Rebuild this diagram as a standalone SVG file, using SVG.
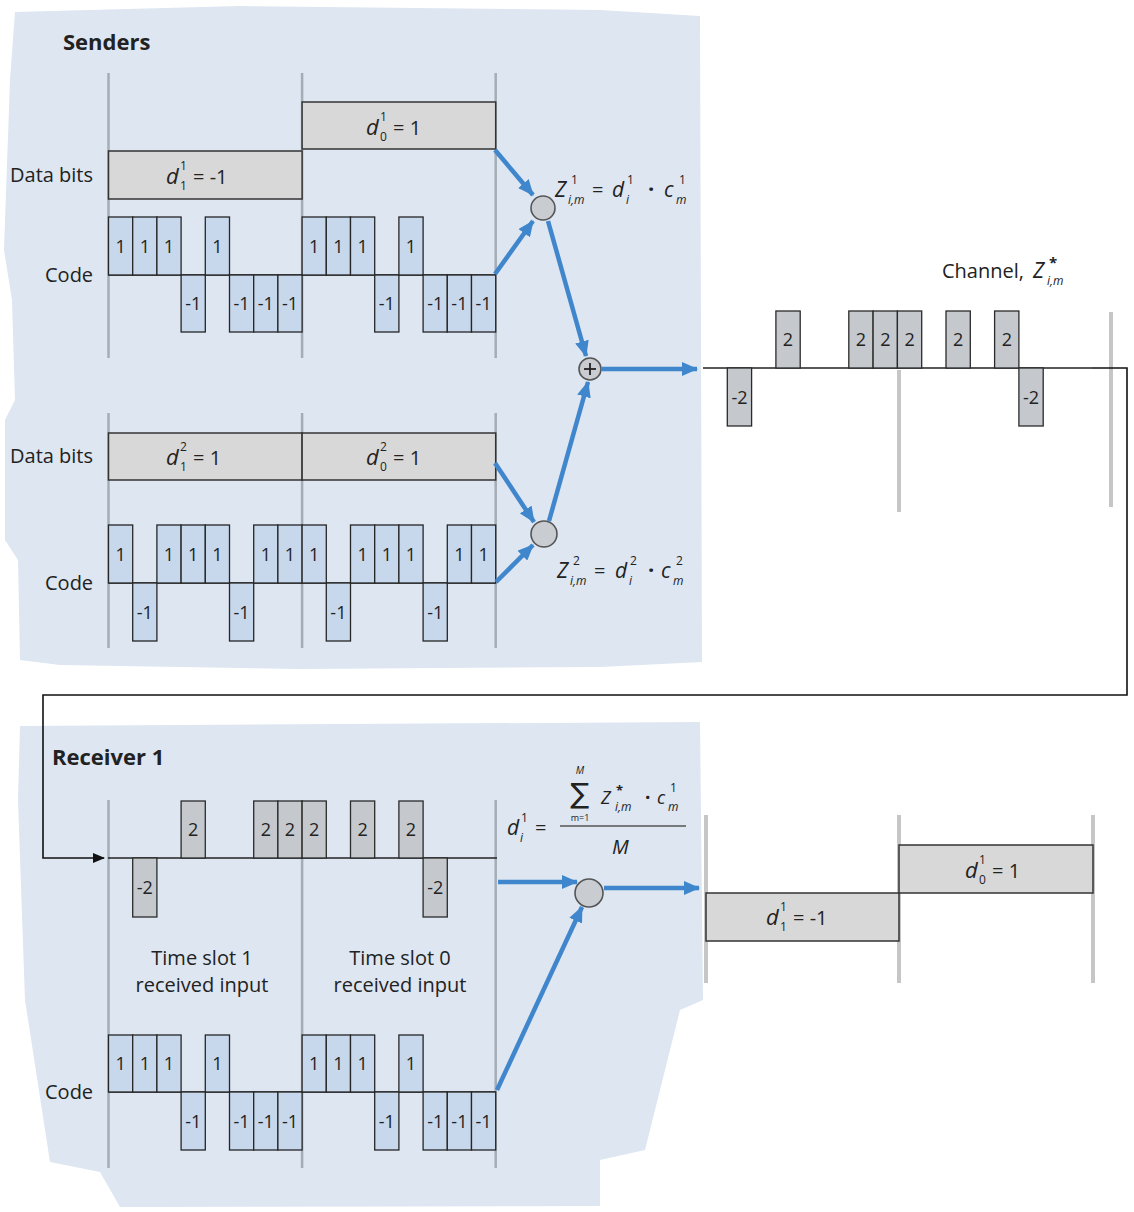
<svg xmlns="http://www.w3.org/2000/svg" width="1134" height="1212" viewBox="0 0 1134 1212">
<defs>
<style>
text{font-family:"Open Sans","Liberation Sans",sans-serif;fill:#222}
.lbl{font-size:20px}
.hd{font-size:22px;font-weight:bold}
.ct{font-size:18px;text-anchor:middle}
.mi{font-style:italic}
.sm{font-size:12px}
.chip{fill:#c7d8ec;stroke:#262626;stroke-width:1.3}
.ch{fill:#c5c8cd;stroke:#2a2a2a;stroke-width:1.3}
.data{fill:#d8d8d8;stroke:#333;stroke-width:1.5}
.tl{stroke:#a4acb6;stroke-width:2.5}
.gl{stroke:#c6c6c6;stroke-width:4}
.base{stroke:#222;stroke-width:1.5}
.arr{stroke:#3f86cc;stroke-width:4.5;fill:none;marker-end:url(#ab)}
.node{fill:#c9ccd1;stroke:#555;stroke-width:1.6}
.bg{fill:#dde6f1}
</style>
<marker id="ab" viewBox="0 0 16 14" refX="15" refY="7" markerWidth="16" markerHeight="14" markerUnits="userSpaceOnUse" orient="auto">
<path d="M0,0 L16,7 L0,14 z" fill="#3f86cc"/>
</marker>
<marker id="ak" viewBox="0 0 12 10" refX="11" refY="5" markerWidth="12" markerHeight="10" markerUnits="userSpaceOnUse" orient="auto">
<path d="M0,0 L12,5 L0,10 z" fill="#111"/>
</marker>
</defs>
<rect width="1134" height="1212" fill="#fff"/>
<!-- backgrounds -->
<path class="bg" d="M15,12 L240,6 L600,10 L700,16 L702,662 L600,667 L300,669 L60,665 L20,660 L18,560 L5,540 L5,420 L15,400 L12,300 L4,250 L10,80 Z"/>
<path class="bg" d="M20,726 L700,722 L703,1000 L680,1010 L645,1150 L600,1160 L600,1206 L120,1207 L100,1172 L50,1162 L25,1000 L18,800 Z"/>

<!-- Sender 1 -->
<g id="sender1">
<text class="hd" x="63" y="50">Senders</text>
<line class="tl" x1="108.5" y1="73" x2="108.5" y2="358"/>
<line class="tl" x1="302.1" y1="73" x2="302.1" y2="358"/>
<line class="tl" x1="495.7" y1="73" x2="495.7" y2="358"/>
<text class="lbl" x="10" y="182">Data bits</text>
<rect class="data" x="108.5" y="151" width="193.6" height="48"/>
<rect class="data" x="302.1" y="102" width="193.6" height="47"/>
<text class="mi" x="166" y="184" font-size="22">d</text><text class="sm" x="180" y="170">1</text><text class="sm" x="180" y="190">1</text><text class="lbl" x="193" y="184">= -1</text>
<text class="mi" x="366" y="135" font-size="22">d</text><text class="sm" x="380" y="121">1</text><text class="sm" x="380" y="141">0</text><text class="lbl" x="393" y="135">= 1</text>
<text class="lbl" x="45" y="282">Code</text>
<line class="base" x1="108.5" y1="275" x2="495.7" y2="275"/>
<g>
<rect class="chip" x="108.5" y="217" width="24.2" height="58"/>
<rect class="chip" x="132.7" y="217" width="24.2" height="58"/>
<rect class="chip" x="156.9" y="217" width="24.2" height="58"/>
<rect class="chip" x="181.1" y="275" width="24.2" height="57"/>
<rect class="chip" x="205.3" y="217" width="24.2" height="58"/>
<rect class="chip" x="229.5" y="275" width="24.2" height="57"/>
<rect class="chip" x="253.7" y="275" width="24.2" height="57"/>
<rect class="chip" x="277.9" y="275" width="24.2" height="57"/>
<rect class="chip" x="302.1" y="217" width="24.2" height="58"/>
<rect class="chip" x="326.3" y="217" width="24.2" height="58"/>
<rect class="chip" x="350.5" y="217" width="24.2" height="58"/>
<rect class="chip" x="374.7" y="275" width="24.2" height="57"/>
<rect class="chip" x="398.9" y="217" width="24.2" height="58"/>
<rect class="chip" x="423.1" y="275" width="24.2" height="57"/>
<rect class="chip" x="447.3" y="275" width="24.2" height="57"/>
<rect class="chip" x="471.5" y="275" width="24.2" height="57"/>
</g>
<g>
<text class="ct" x="120.6" y="253">1</text><text class="ct" x="144.8" y="253">1</text><text class="ct" x="169" y="253">1</text><text class="ct" x="193.2" y="310">-1</text>
<text class="ct" x="217.4" y="253">1</text><text class="ct" x="241.6" y="310">-1</text><text class="ct" x="265.8" y="310">-1</text><text class="ct" x="290" y="310">-1</text>
<text class="ct" x="314.2" y="253">1</text><text class="ct" x="338.4" y="253">1</text><text class="ct" x="362.6" y="253">1</text><text class="ct" x="386.8" y="310">-1</text>
<text class="ct" x="411" y="253">1</text><text class="ct" x="435.2" y="310">-1</text><text class="ct" x="459.4" y="310">-1</text><text class="ct" x="483.6" y="310">-1</text>
</g>
</g>

<!-- Sender 2 -->
<g id="sender2">
<line class="tl" x1="108.5" y1="413" x2="108.5" y2="648"/>
<line class="tl" x1="302.1" y1="413" x2="302.1" y2="648"/>
<line class="tl" x1="495.7" y1="413" x2="495.7" y2="648"/>
<text class="lbl" x="10" y="463">Data bits</text>
<rect class="data" x="108.5" y="433" width="193.6" height="47"/>
<rect class="data" x="302.1" y="433" width="193.6" height="47"/>
<text class="mi" x="166" y="465" font-size="22">d</text><text class="sm" x="180" y="451">2</text><text class="sm" x="180" y="471">1</text><text class="lbl" x="193" y="465">= 1</text>
<text class="mi" x="366" y="465" font-size="22">d</text><text class="sm" x="380" y="451">2</text><text class="sm" x="380" y="471">0</text><text class="lbl" x="393" y="465">= 1</text>
<text class="lbl" x="45" y="590">Code</text>
<line class="base" x1="108.5" y1="583" x2="495.7" y2="583"/>
<g>
<rect class="chip" x="108.5" y="525" width="24.2" height="58"/>
<rect class="chip" x="132.7" y="583" width="24.2" height="58"/>
<rect class="chip" x="156.9" y="525" width="24.2" height="58"/>
<rect class="chip" x="181.1" y="525" width="24.2" height="58"/>
<rect class="chip" x="205.3" y="525" width="24.2" height="58"/>
<rect class="chip" x="229.5" y="583" width="24.2" height="58"/>
<rect class="chip" x="253.7" y="525" width="24.2" height="58"/>
<rect class="chip" x="277.9" y="525" width="24.2" height="58"/>
<rect class="chip" x="302.1" y="525" width="24.2" height="58"/>
<rect class="chip" x="326.3" y="583" width="24.2" height="58"/>
<rect class="chip" x="350.5" y="525" width="24.2" height="58"/>
<rect class="chip" x="374.7" y="525" width="24.2" height="58"/>
<rect class="chip" x="398.9" y="525" width="24.2" height="58"/>
<rect class="chip" x="423.1" y="583" width="24.2" height="58"/>
<rect class="chip" x="447.3" y="525" width="24.2" height="58"/>
<rect class="chip" x="471.5" y="525" width="24.2" height="58"/>
</g>
<g>
<text class="ct" x="120.6" y="561">1</text><text class="ct" x="144.8" y="619">-1</text><text class="ct" x="169" y="561">1</text><text class="ct" x="193.2" y="561">1</text>
<text class="ct" x="217.4" y="561">1</text><text class="ct" x="241.6" y="619">-1</text><text class="ct" x="265.8" y="561">1</text><text class="ct" x="290" y="561">1</text>
<text class="ct" x="314.2" y="561">1</text><text class="ct" x="338.4" y="619">-1</text><text class="ct" x="362.6" y="561">1</text><text class="ct" x="386.8" y="561">1</text>
<text class="ct" x="411" y="561">1</text><text class="ct" x="435.2" y="619">-1</text><text class="ct" x="459.4" y="561">1</text><text class="ct" x="483.6" y="561">1</text>
</g>
</g>

<!-- Multipliers and adder -->
<g id="mult1">
<circle class="node" cx="543" cy="208" r="12"/>
<text class="mi" x="555" y="197" font-size="21">Z</text><text class="sm" x="571" y="184">1</text><text class="sm mi" x="568" y="204">i,m</text>
<text class="lbl" x="592" y="197">=</text>
<text class="mi" x="612" y="197" font-size="21">d</text><text class="sm" x="627" y="184">1</text><text class="sm mi" x="626" y="204">i</text>
<text x="648" y="197" font-size="22" font-weight="bold">·</text>
<text class="mi" x="664" y="197" font-size="21">c</text><text class="sm" x="679" y="184">1</text><text class="sm mi" x="676" y="204">m</text>
</g>
<g id="mult2">
<circle class="node" cx="544" cy="534" r="13"/>
<text class="mi" x="557" y="578" font-size="21">Z</text><text class="sm" x="573" y="565">2</text><text class="sm mi" x="570" y="585">i,m</text>
<text class="lbl" x="594" y="578">=</text>
<text class="mi" x="615" y="578" font-size="21">d</text><text class="sm" x="630" y="565">2</text><text class="sm mi" x="629" y="585">i</text>
<text x="648" y="578" font-size="22" font-weight="bold">·</text>
<text class="mi" x="661" y="578" font-size="21">c</text><text class="sm" x="676" y="565">2</text><text class="sm mi" x="673" y="585">m</text>
</g>
<g id="adder">
<circle class="node" cx="590" cy="369" r="11"/>
<line x1="584" y1="369" x2="596" y2="369" stroke="#222" stroke-width="1.8"/>
<line x1="590" y1="363" x2="590" y2="375" stroke="#222" stroke-width="1.8"/>
</g>

<!-- Channel -->
<g id="channel">
<text class="lbl" x="942" y="278">Channel,</text>
<text class="mi" x="1033" y="278" font-size="21">Z</text><text x="1049" y="268" font-size="15" font-weight="bold">*</text><text class="sm mi" x="1047" y="285">i,m</text>
<line class="gl" x1="899" y1="370" x2="899" y2="512"/>
<line class="gl" x1="1111" y1="312" x2="1111" y2="507"/>
<line class="base" x1="703" y1="368" x2="1092" y2="368"/>
<rect class="ch" x="727.3" y="368" width="24.3" height="58"/>
<rect class="ch" x="775.9" y="311" width="24.3" height="57"/>
<rect class="ch" x="848.8" y="311" width="24.3" height="57"/>
<rect class="ch" x="873.1" y="311" width="24.3" height="57"/>
<rect class="ch" x="897.4" y="311" width="24.3" height="57"/>
<rect class="ch" x="946" y="311" width="24.3" height="57"/>
<rect class="ch" x="994.6" y="311" width="24.3" height="57"/>
<rect class="ch" x="1018.9" y="368" width="24.3" height="58"/>
<text class="ct" x="739.5" y="404">-2</text>
<text class="ct" x="788" y="346">2</text>
<text class="ct" x="861" y="346">2</text>
<text class="ct" x="885.3" y="346">2</text>
<text class="ct" x="909.6" y="346">2</text>
<text class="ct" x="958.2" y="346">2</text>
<text class="ct" x="1006.8" y="346">2</text>
<text class="ct" x="1031" y="404">-2</text>
</g>

<!-- Receiver -->
<g id="receiver">
<text class="hd" x="52" y="765">Receiver 1</text>
<line class="tl" x1="108.5" y1="800" x2="108.5" y2="1168"/>
<line class="tl" x1="302.1" y1="800" x2="302.1" y2="1168"/>
<line class="tl" x1="495.7" y1="800" x2="495.7" y2="1168"/>
<line class="base" x1="108" y1="858" x2="497" y2="858"/>
<rect class="ch" x="132.7" y="858" width="24.2" height="59"/>
<rect class="ch" x="181.1" y="801" width="24.2" height="57"/>
<rect class="ch" x="253.7" y="801" width="24.2" height="57"/>
<rect class="ch" x="277.9" y="801" width="24.2" height="57"/>
<rect class="ch" x="302.1" y="801" width="24.2" height="57"/>
<rect class="ch" x="350.5" y="801" width="24.2" height="57"/>
<rect class="ch" x="398.9" y="801" width="24.2" height="57"/>
<rect class="ch" x="423.1" y="858" width="24.2" height="59"/>
<text class="ct" x="144.8" y="894">-2</text>
<text class="ct" x="193.2" y="836">2</text>
<text class="ct" x="265.8" y="836">2</text>
<text class="ct" x="290" y="836">2</text>
<text class="ct" x="314.2" y="836">2</text>
<text class="ct" x="362.6" y="836">2</text>
<text class="ct" x="411" y="836">2</text>
<text class="ct" x="435.2" y="894">-2</text>
<text class="lbl" x="202" y="965" text-anchor="middle">Time slot 1</text>
<text class="lbl" x="202" y="992" text-anchor="middle">received input</text>
<text class="lbl" x="400" y="965" text-anchor="middle">Time slot 0</text>
<text class="lbl" x="400" y="992" text-anchor="middle">received input</text>
<text class="lbl" x="45" y="1099">Code</text>
<line class="base" x1="108.5" y1="1092" x2="495.7" y2="1092"/>
<g>
<rect class="chip" x="108.5" y="1035" width="24.2" height="57"/>
<rect class="chip" x="132.7" y="1035" width="24.2" height="57"/>
<rect class="chip" x="156.9" y="1035" width="24.2" height="57"/>
<rect class="chip" x="181.1" y="1092" width="24.2" height="58"/>
<rect class="chip" x="205.3" y="1035" width="24.2" height="57"/>
<rect class="chip" x="229.5" y="1092" width="24.2" height="58"/>
<rect class="chip" x="253.7" y="1092" width="24.2" height="58"/>
<rect class="chip" x="277.9" y="1092" width="24.2" height="58"/>
<rect class="chip" x="302.1" y="1035" width="24.2" height="57"/>
<rect class="chip" x="326.3" y="1035" width="24.2" height="57"/>
<rect class="chip" x="350.5" y="1035" width="24.2" height="57"/>
<rect class="chip" x="374.7" y="1092" width="24.2" height="58"/>
<rect class="chip" x="398.9" y="1035" width="24.2" height="57"/>
<rect class="chip" x="423.1" y="1092" width="24.2" height="58"/>
<rect class="chip" x="447.3" y="1092" width="24.2" height="58"/>
<rect class="chip" x="471.5" y="1092" width="24.2" height="58"/>
</g>
<g>
<text class="ct" x="120.6" y="1070">1</text><text class="ct" x="144.8" y="1070">1</text><text class="ct" x="169" y="1070">1</text><text class="ct" x="193.2" y="1128">-1</text>
<text class="ct" x="217.4" y="1070">1</text><text class="ct" x="241.6" y="1128">-1</text><text class="ct" x="265.8" y="1128">-1</text><text class="ct" x="290" y="1128">-1</text>
<text class="ct" x="314.2" y="1070">1</text><text class="ct" x="338.4" y="1070">1</text><text class="ct" x="362.6" y="1070">1</text><text class="ct" x="386.8" y="1128">-1</text>
<text class="ct" x="411" y="1070">1</text><text class="ct" x="435.2" y="1128">-1</text><text class="ct" x="459.4" y="1128">-1</text><text class="ct" x="483.6" y="1128">-1</text>
</g>
</g>

<!-- Correlator -->
<g id="correlator">
<circle class="node" cx="589" cy="893" r="14"/>
<text class="mi" x="507" y="835" font-size="21">d</text><text class="sm" x="521" y="822">1</text><text class="sm mi" x="520" y="842">i</text>
<text class="lbl" x="535" y="835">=</text>
<text x="580" y="803" font-size="28" text-anchor="middle" style="font-family:'DejaVu Sans',sans-serif">∑</text>
<text class="mi" x="580" y="774" font-size="10" text-anchor="middle">M</text>
<text x="580" y="821" font-size="9" text-anchor="middle">m=1</text>
<text class="mi" x="601" y="804" font-size="18">Z</text><text x="616" y="795" font-size="13" font-weight="bold">*</text><text class="sm mi" x="615" y="811">i,m</text>
<text x="645" y="804" font-size="19" font-weight="bold">·</text>
<text class="mi" x="657" y="804" font-size="18">c</text><text class="sm" x="670" y="792">1</text><text class="sm mi" x="668" y="811">m</text>
<line x1="560" y1="826" x2="686" y2="826" stroke="#555" stroke-width="1.6"/>
<text class="mi" x="612" y="854" font-size="20">M</text>
</g>

<!-- Output -->
<g id="output">
<line class="gl" x1="706" y1="815" x2="706" y2="983"/>
<line class="gl" x1="899" y1="815" x2="899" y2="983"/>
<line class="gl" x1="1093" y1="815" x2="1093" y2="983"/>
<rect class="data" x="706" y="893" width="193" height="48"/>
<rect class="data" x="899" y="845" width="194" height="48"/>
<text class="mi" x="766" y="925" font-size="22">d</text><text class="sm" x="780" y="911">1</text><text class="sm" x="780" y="931">1</text><text class="lbl" x="793" y="925">= -1</text>
<text class="mi" x="965" y="878" font-size="22">d</text><text class="sm" x="979" y="864">1</text><text class="sm" x="979" y="884">0</text><text class="lbl" x="992" y="878">= 1</text>
</g>

<!-- Connectors -->
<g id="connectors">
<path class="arr" d="M495,150 L533,195"/>
<path class="arr" d="M495,274 L533,221"/>
<path class="arr" d="M548,221 L586,356"/>
<path class="arr" d="M495,463 L534,522"/>
<path class="arr" d="M496,582 L533,545"/>
<path class="arr" d="M549,521 L588,382"/>
<path class="arr" d="M602,369 L697,369"/>
<path class="arr" d="M498,882 L577,882"/>
<path class="arr" d="M604,888 L699,888"/>
<path class="arr" d="M497,1090 L582,907"/>
<path d="M1092,368 H1127 V695 H43 V858 H104" fill="none" stroke="#111" stroke-width="1.6" marker-end="url(#ak)"/>
</g>
</svg>
